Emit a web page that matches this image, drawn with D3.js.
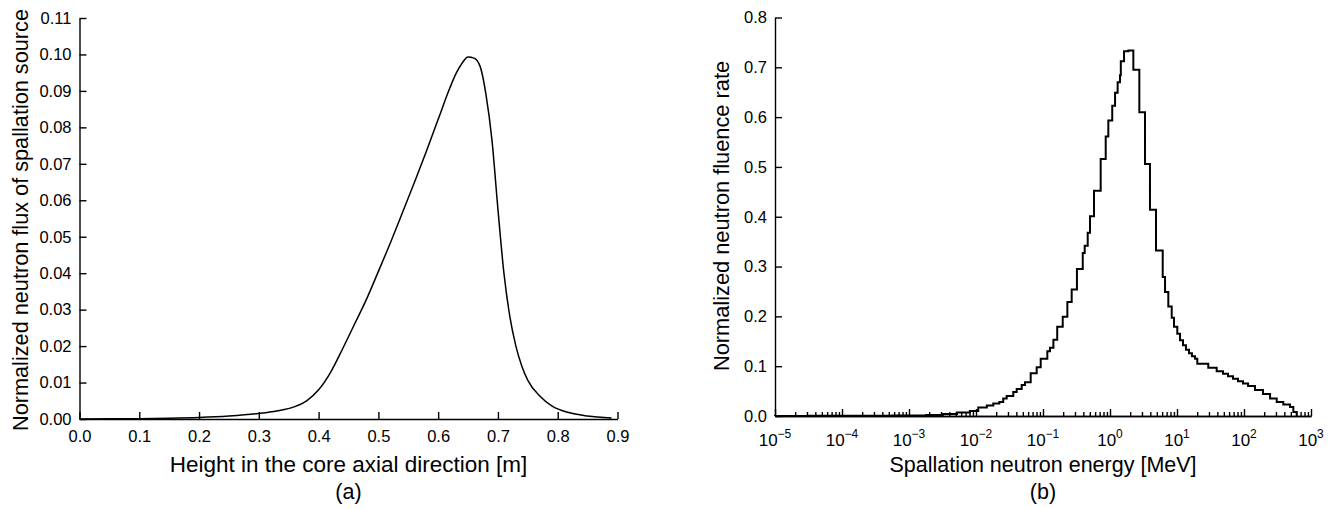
<!DOCTYPE html>
<html>
<head>
<meta charset="utf-8">
<script src="https://cdn.jsdelivr.net/npm/d3@7"></script>
<style>
  body { margin: 0; background: #fff; }
  svg text { font-family: "Liberation Sans", Arial, sans-serif; fill: #000; }
</style>
</head>
<body>
<div id="chart"></div>
<script>
// (a) axial flux of spallation source
const heightM = [0.00, 0.05, 0.10, 0.15, 0.20, 0.25, 0.30, 0.33, 0.36, 0.38, 0.40, 0.42, 0.44, 0.46, 0.48,
  0.50, 0.52, 0.54, 0.56, 0.58, 0.60, 0.62, 0.63, 0.64, 0.65, 0.66, 0.67, 0.68, 0.69, 0.70,
  0.71, 0.72, 0.73, 0.74, 0.75, 0.77, 0.79, 0.82, 0.85, 0.89];
const fluxA = [0.00002, 0.00005, 0.0001, 0.0002, 0.0004, 0.0008, 0.0015, 0.0022, 0.0034, 0.0050, 0.0080, 0.0128, 0.0192, 0.0260, 0.0328,
  0.0405, 0.0483, 0.0565, 0.0648, 0.0733, 0.0822, 0.0910, 0.0948, 0.0976, 0.0993, 0.0990, 0.0968, 0.0890, 0.0765, 0.0575,
  0.0400, 0.0280, 0.0200, 0.0145, 0.0106, 0.0063, 0.0036, 0.0017, 0.0008, 0.0003];
const ticksA_x = [0, 0.1, 0.2, 0.3, 0.4, 0.5, 0.6, 0.7, 0.8, 0.9];
const ticksA_y = [0, 0.01, 0.02, 0.03, 0.04, 0.05, 0.06, 0.07, 0.08, 0.09, 0.10, 0.11];

// (b) spallation neutron spectrum, bin edges in MeV and value per bin
const energyEdges = [1e-5, 1.8e-5, 3.2e-5, 5.6e-5, 1e-4, 1.8e-4, 3.2e-4, 5.6e-4, 1e-3, 1.8e-3, 3.2e-3, 5.2e-3, 8.1e-3,
  1.08e-2, 1.45e-2, 1.81e-2, 2.23e-2, 2.55e-2, 2.87e-2, 3.6e-2, 4.05e-2, 4.81e-2, 5.38e-2, 6.55e-2, 8.05e-2, 9.24e-2,
  0.116, 0.127, 0.143, 0.163, 0.197, 0.231, 0.268, 0.321, 0.392, 0.419, 0.465, 0.503, 0.577, 0.726, 0.863, 0.944,
  1.08, 1.19, 1.30, 1.41, 1.45, 1.62, 1.88, 2.23, 2.74, 3.33, 3.95, 4.86, 6.12, 6.63, 7.42, 8.34, 9.02,
  10.1, 11.1, 12.3, 13.6, 15.1, 16.7, 18.6, 20.1, 29.3, 39.1, 48.6, 57.7, 68.5, 81.4, 96.6, 115, 146, 192, 245,
  308, 386, 486, 545, 612];
const fluenceRate = [0.0002, 0.0002, 0.0003, 0.0003, 0.0004, 0.0005, 0.0007, 0.0009, 0.0012, 0.002, 0.004, 0.007, 0.010,
  0.017, 0.021, 0.025, 0.028, 0.035, 0.040, 0.048, 0.054, 0.062, 0.068, 0.086, 0.098, 0.115,
  0.130, 0.137, 0.153, 0.179, 0.199, 0.229, 0.254, 0.295, 0.327, 0.342, 0.368, 0.401, 0.452, 0.516, 0.561, 0.593,
  0.623, 0.649, 0.670, 0.684, 0.712, 0.732, 0.734, 0.695, 0.610, 0.506, 0.414, 0.332, 0.279, 0.249, 0.220, 0.197, 0.179,
  0.165, 0.152, 0.142, 0.133, 0.126, 0.120, 0.115, 0.105, 0.097, 0.090, 0.085, 0.080, 0.075, 0.070, 0.065, 0.060, 0.052, 0.044, 0.035,
  0.028, 0.023, 0.018, 0.008];
const ticksB_y = [0, 0.1, 0.2, 0.3, 0.4, 0.5, 0.6, 0.7, 0.8];
const decadesB = [-5, -4, -3, -2, -1, 0, 1, 2, 3];

const svg = d3.select('#chart').append('svg')
  .attr('width', 1337)
  .attr('height', 509);

function styleAxis(g) {
  g.selectAll('path').attr('stroke', '#000').attr('stroke-width', 1.4);
  g.selectAll('line').attr('stroke', '#000').attr('stroke-width', 1.4);
  g.selectAll('text').attr('font-size', 16.5).attr('fill', '#000')
    .attr('font-family', '"Liberation Sans", Arial, sans-serif');
}

// ---------- panel (a) ----------
const xA = d3.scaleLinear().domain([0, 0.9]).range([79.5, 617.5]);
const yA = d3.scaleLinear().domain([0, 0.11]).range([419, 18]);

svg.append('path')
  .datum(heightM.map((h, i) => [h, fluxA[i]]))
  .attr('fill', 'none')
  .attr('stroke', '#000')
  .attr('stroke-width', 1.5)
  .attr('d', d3.line().x(d => xA(d[0])).y(d => yA(d[1])).curve(d3.curveMonotoneX));

svg.append('g')
  .attr('transform', 'translate(0,419)')
  .call(d3.axisBottom(xA).tickValues(ticksA_x).tickFormat(d3.format('.1f'))
    .tickSize(-7).tickSizeOuter(0).tickPadding(11))
  .call(styleAxis);

svg.append('g')
  .attr('transform', 'translate(79.5,0)')
  .call(d3.axisLeft(yA).tickValues(ticksA_y).tickFormat(d3.format('.2f'))
    .tickSize(-7).tickSizeOuter(0).tickPadding(8))
  .call(styleAxis);

svg.append('text')
  .attr('x', 348.5).attr('y', 472)
  .attr('text-anchor', 'middle').attr('font-size', 22.5)
  .text('Height in the core axial direction [m]');
svg.append('text')
  .attr('x', 348.5).attr('y', 499)
  .attr('text-anchor', 'middle').attr('font-size', 21.5)
  .text('(a)');
svg.append('text')
  .attr('transform', 'translate(28,220) rotate(-90)')
  .attr('text-anchor', 'middle').attr('font-size', 21.7)
  .text('Normalized neutron flux of spallation source');

// ---------- panel (b) ----------
const xB = d3.scaleLog().domain([1e-5, 1e3]).range([775, 1311]);
const yB = d3.scaleLinear().domain([0, 0.8]).range([416, 17.5]);

const stepPts = [[energyEdges[0], 0]];
fluenceRate.forEach((v, i) => {
  stepPts.push([energyEdges[i], v]);
  stepPts.push([energyEdges[i + 1], v]);
});
stepPts.push([energyEdges[energyEdges.length - 1], 0]);

svg.append('path')
  .datum(stepPts)
  .attr('fill', 'none')
  .attr('stroke', '#000')
  .attr('stroke-width', 2)
  .attr('stroke-linejoin', 'miter')
  .attr('d', d3.line().x(d => xB(d[0])).y(d => yB(d[1])));

// minor ticks
const minorVals = [];
decadesB.slice(0, -1).forEach(k => {
  for (let m = 2; m <= 9; m++) minorVals.push(m * Math.pow(10, k));
});
svg.append('g')
  .attr('transform', 'translate(0,416)')
  .call(d3.axisBottom(xB).tickValues(minorVals).tickFormat('').tickSize(-4).tickSizeOuter(0))
  .call(styleAxis);

// major ticks
const majorVals = decadesB.map(k => Math.pow(10, k));
svg.append('g')
  .attr('transform', 'translate(0,416)')
  .call(d3.axisBottom(xB).tickValues(majorVals).tickFormat('').tickSize(-7).tickSizeOuter(0))
  .call(styleAxis);

const labB = svg.append('g');
decadesB.forEach(k => {
  const t = labB.append('text')
    .attr('x', xB(Math.pow(10, k)))
    .attr('y', 446)
    .attr('text-anchor', 'middle')
    .attr('font-size', 17);
  t.append('tspan').text('10');
  t.append('tspan').attr('font-size', 12).attr('dy', -8)
    .text(k < 0 ? '\u2212' + Math.abs(k) : String(k));
});

svg.append('g')
  .attr('transform', 'translate(775,0)')
  .call(d3.axisLeft(yB).tickValues(ticksB_y).tickFormat(d3.format('.1f'))
    .tickSize(-7).tickSizeOuter(0).tickPadding(8))
  .call(styleAxis);

svg.append('text')
  .attr('x', 1043).attr('y', 472)
  .attr('text-anchor', 'middle').attr('font-size', 21.5)
  .text('Spallation neutron energy [MeV]');
svg.append('text')
  .attr('x', 1043).attr('y', 499)
  .attr('text-anchor', 'middle').attr('font-size', 21.5)
  .text('(b)');
svg.append('text')
  .attr('transform', 'translate(729,216) rotate(-90)')
  .attr('text-anchor', 'middle').attr('font-size', 21.8)
  .text('Normalized neutron fluence rate');
</script>
</body>
</html>
